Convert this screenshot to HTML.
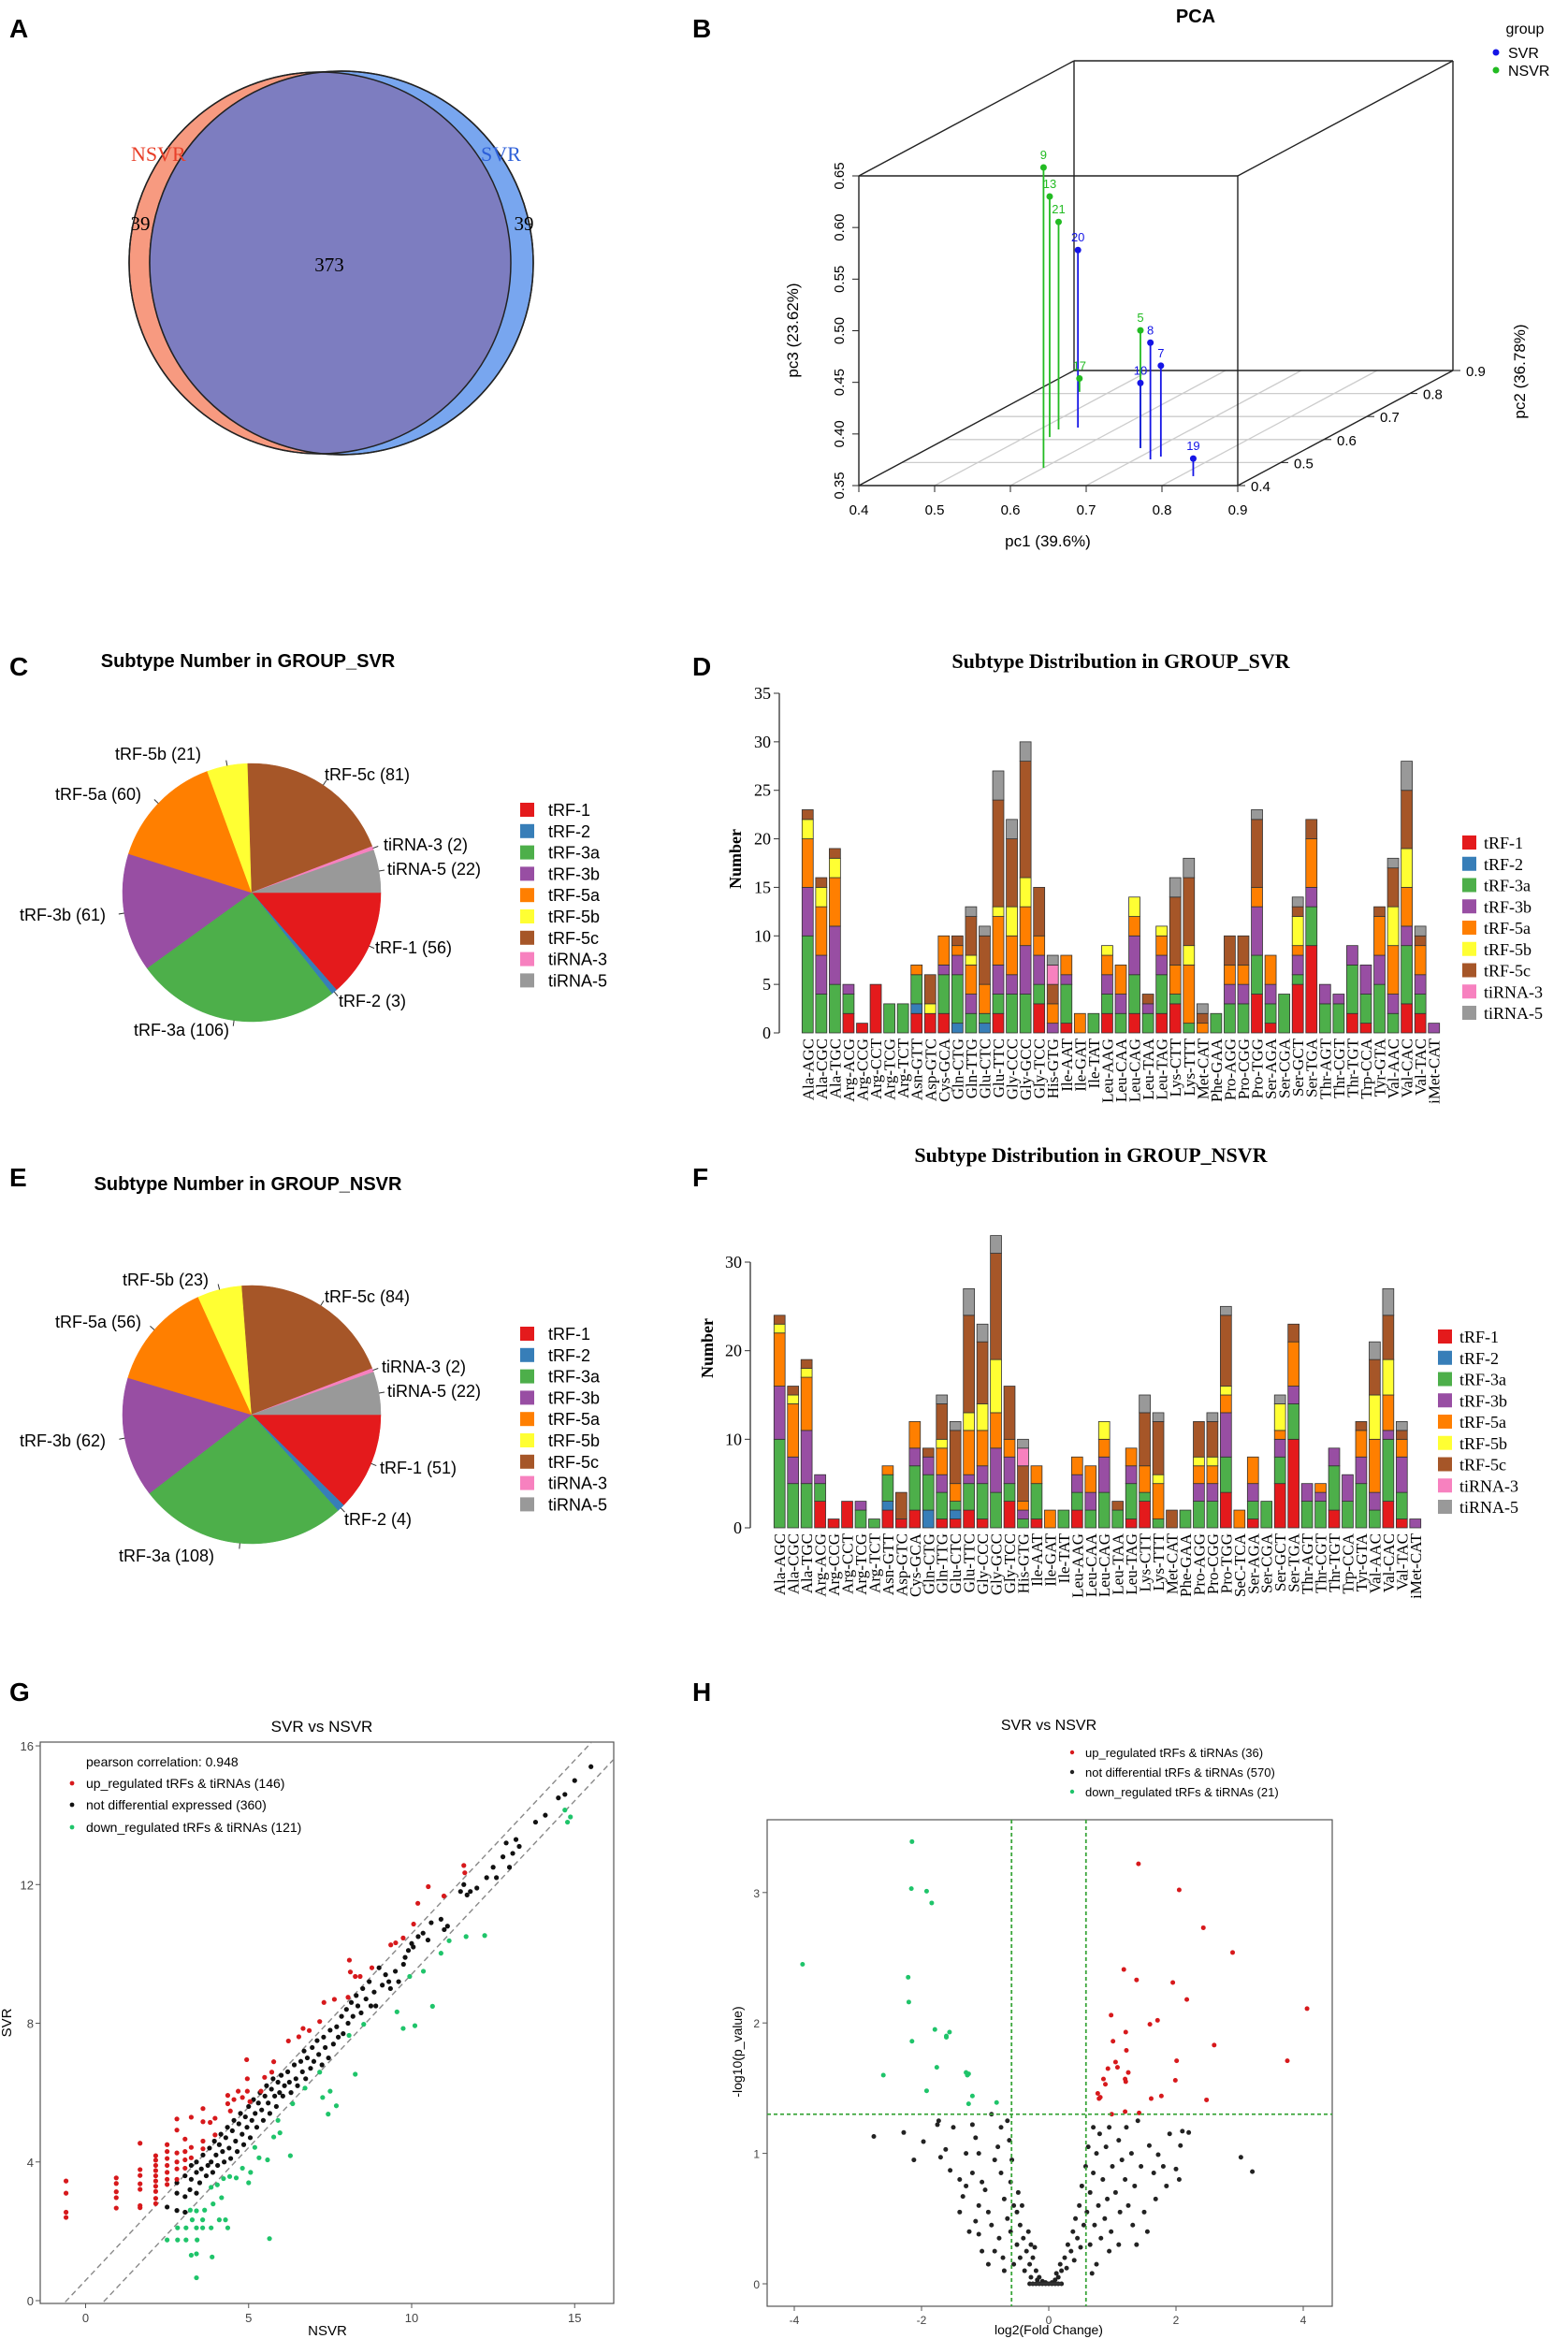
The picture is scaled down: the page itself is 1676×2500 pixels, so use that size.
<!DOCTYPE html>
<html><head><meta charset="utf-8">
<style>
html,body{margin:0;padding:0;background:#fff;}
svg{display:block;}
text{font-family:"Liberation Sans",sans-serif;}
.serif{font-family:"Liberation Serif",serif;}
</style></head>
<body>
<svg id="fig" width="1676" height="2500" viewBox="0 0 1676 2500" xmlns="http://www.w3.org/2000/svg">
  <rect x="0" y="0" width="1676" height="2500" fill="#fff"/>
  <text x="10" y="40" font-size="28" font-weight="bold">A</text>
  <text x="740" y="40" font-size="28" font-weight="bold">B</text>
  <text x="10" y="722" font-size="28" font-weight="bold">C</text>
  <text x="740" y="722" font-size="28" font-weight="bold">D</text>
  <text x="10" y="1268" font-size="28" font-weight="bold">E</text>
  <text x="740" y="1268" font-size="28" font-weight="bold">F</text>
  <text x="10" y="1818" font-size="28" font-weight="bold">G</text>
  <text x="740" y="1818" font-size="28" font-weight="bold">H</text>

  <!-- Venn -->
  <g>
    <defs><clipPath id="clipN"><circle cx="342" cy="281" r="204"/></clipPath></defs>
    <circle cx="342" cy="281" r="204" fill="#f79a80" stroke="#222" stroke-width="1.5"/>
    <circle cx="365" cy="281" r="205" fill="#78a6ef" stroke="#222" stroke-width="1.5"/>
    <circle cx="365" cy="281" r="205" fill="#7d7dc0" clip-path="url(#clipN)"/>
    <circle cx="342" cy="281" r="204" fill="none" stroke="#222" stroke-width="1.5"/>
    <circle cx="365" cy="281" r="205" fill="none" stroke="#222" stroke-width="1.5"/>
    <text x="140" y="172" font-size="22" fill="#e8402a" class="serif">NSVR</text>
    <text x="514" y="172" font-size="22" fill="#2c5fd8" class="serif">SVR</text>
    <text x="150" y="246" font-size="21" class="serif" text-anchor="middle">39</text>
    <text x="352" y="290" font-size="21" class="serif" text-anchor="middle">373</text>
    <text x="560" y="246" font-size="21" class="serif" text-anchor="middle">39</text>
  </g>

  <g id="pca"></g>
  <g id="pieC"></g>
  <g id="pieE"></g>
  <g id="barD"></g>
  <g id="barF"></g>
  <g id="scatG"></g>
  <g id="volH"></g>
</svg>
<script>
var NS = "http://www.w3.org/2000/svg";
function mk(tag, attrs, parent, txt){
  var e = document.createElementNS(NS, tag);
  for (var k in attrs) e.setAttribute(k, attrs[k]);
  if (txt !== undefined) e.textContent = txt;
  parent.appendChild(e);
  return e;
}
var subtypes = ["tRF-1","tRF-2","tRF-3a","tRF-3b","tRF-5a","tRF-5b","tRF-5c","tiRNA-3","tiRNA-5"];
var subColors = ["#e41a1c","#377eb8","#4daf4a","#984ea3","#ff7f00","#ffff33","#a65628","#f781bf","#999999"];

/* ---------- PCA data ---------- */
var pcaIds = ["9","13","21","20","17","5","8","7","10","19"];
var pcaGroup = ["NSVR","NSVR","NSVR","SVR","NSVR","NSVR","SVR","SVR","SVR","SVR"];
var pcaPc1 = [0.600,0.532,0.525,0.546,0.460,0.679,0.720,0.727,0.679,0.818];
var pcaPc2 = [0.477,0.611,0.644,0.652,0.807,0.563,0.514,0.526,0.563,0.441];
var pcaPc3 = [0.641,0.583,0.551,0.522,0.363,0.464,0.463,0.438,0.413,0.367];
var pcaTicks1 = [0.4,0.5,0.6,0.7,0.8,0.9];
var pcaTicks2 = [0.4,0.5,0.6,0.7,0.8,0.9];
var pcaTicks3 = [0.35,0.40,0.45,0.50,0.55,0.60,0.65];

/* ---------- Pie data ---------- */
var pieSvrValues = [56,3,106,61,60,21,81,2,22];
var pieNsvrValues = [51,4,108,62,56,23,84,2,22];

/* ---------- Bar data ---------- */
var barSvrCats = ["Ala-AGC","Ala-CGC","Ala-TGC","Arg-ACG","Arg-CCG","Arg-CCT","Arg-TCG","Arg-TCT","Asn-GTT","Asp-GTC","Cys-GCA","Gln-CTG","Gln-TTG","Glu-CTC","Glu-TTC","Gly-CCC","Gly-GCC","Gly-TCC","His-GTG","Ile-AAT","Ile-GAT","Ile-TAT","Leu-AAG","Leu-CAA","Leu-CAG","Leu-TAA","Leu-TAG","Lys-CTT","Lys-TTT","Met-CAT","Phe-GAA","Pro-AGG","Pro-CGG","Pro-TGG","Ser-AGA","Ser-CGA","Ser-GCT","Ser-TGA","Thr-AGT","Thr-CGT","Thr-TGT","Trp-CCA","Tyr-GTA","Val-AAC","Val-CAC","Val-TAC","iMet-CAT"];
var svrTRF1  = [0,0,0,2,1,5,0,0,2,2,2,0,0,0,2,0,0,3,0,1,0,0,2,0,2,0,2,3,0,0,0,0,0,4,1,0,5,9,0,0,2,1,0,0,3,2,0];
var svrTRF2  = [0,0,0,0,0,0,0,0,1,0,0,1,0,1,0,0,0,0,0,0,0,0,0,0,0,0,0,0,0,0,0,0,0,0,0,0,0,0,0,0,0,0,0,0,0,0,0];
var svrTRF3a = [10,4,5,2,0,0,3,3,3,0,4,5,2,1,2,4,4,2,0,4,0,2,2,2,4,2,4,1,1,0,2,3,3,4,2,4,1,4,3,3,5,3,5,2,6,2,0];
var svrTRF3b = [5,4,6,1,0,0,0,0,0,0,1,2,2,0,3,2,5,3,1,1,0,0,2,2,4,1,2,0,0,0,0,2,2,5,2,0,2,2,2,1,2,3,3,2,2,2,1];
var svrTRF5a = [5,5,5,0,0,0,0,0,1,0,3,1,3,3,5,4,4,2,2,2,2,0,2,3,2,0,2,3,6,1,0,2,2,2,3,0,1,5,0,0,0,0,4,5,4,3,0];
var svrTRF5b = [2,2,2,0,0,0,0,0,0,1,0,0,1,0,1,3,3,0,0,0,0,0,1,0,2,0,1,0,2,0,0,0,0,0,0,0,3,0,0,0,0,0,0,4,4,0,0];
var svrTRF5c = [1,1,1,0,0,0,0,0,0,3,0,1,4,5,11,7,12,5,2,0,0,0,0,0,0,1,0,7,7,1,0,3,3,7,0,0,1,2,0,0,0,0,1,4,6,1,0];
var svrTi3   = [0,0,0,0,0,0,0,0,0,0,0,0,0,0,0,0,0,0,2,0,0,0,0,0,0,0,0,0,0,0,0,0,0,0,0,0,0,0,0,0,0,0,0,0,0,0,0];
var svrTi5   = [0,0,0,0,0,0,0,0,0,0,0,0,1,1,3,2,2,0,1,0,0,0,0,0,0,0,0,2,2,1,0,0,0,1,0,0,1,0,0,0,0,0,0,1,3,1,0];

var barNsvrCats = ["Ala-AGC","Ala-CGC","Ala-TGC","Arg-ACG","Arg-CCG","Arg-CCT","Arg-TCG","Arg-TCT","Asn-GTT","Asp-GTC","Cys-GCA","Gln-CTG","Gln-TTG","Glu-CTC","Glu-TTC","Gly-CCC","Gly-GCC","Gly-TCC","His-GTG","Ile-AAT","Ile-GAT","Ile-TAT","Leu-AAG","Leu-CAA","Leu-CAG","Leu-TAA","Leu-TAG","Lys-CTT","Lys-TTT","Met-CAT","Phe-GAA","Pro-AGG","Pro-CGG","Pro-TGG","SeC-TCA","Ser-AGA","Ser-CGA","Ser-GCT","Ser-TGA","Thr-AGT","Thr-CGT","Thr-TGT","Trp-CCA","Tyr-GTA","Val-AAC","Val-CAC","Val-TAC","iMet-CAT"];
var nsvrTRF1  = [0,0,0,3,1,3,0,0,2,1,2,0,1,1,2,1,0,3,0,1,0,0,2,0,0,0,1,3,0,0,0,0,0,4,0,1,0,5,10,0,0,2,0,0,0,3,1,0];
var nsvrTRF2  = [0,0,0,0,0,0,0,0,1,0,0,2,0,1,0,0,0,0,0,0,0,0,0,0,0,0,0,0,0,0,0,0,0,0,0,0,0,0,0,0,0,0,0,0,0,0,0,0];
var nsvrTRF3a = [10,5,5,2,0,0,2,1,3,0,5,4,3,1,3,4,4,2,1,4,0,2,2,2,4,2,4,1,1,0,2,3,3,4,0,2,3,3,4,3,3,5,3,5,2,7,3,0];
var nsvrTRF3b = [6,3,6,1,0,0,1,0,0,0,2,2,2,0,1,2,5,3,1,0,0,0,2,2,4,0,2,0,0,0,0,2,2,5,0,2,0,2,2,2,1,2,3,3,2,1,4,1];
var nsvrTRF5a = [6,6,6,0,0,0,0,0,1,0,3,0,3,2,5,4,4,2,1,2,2,0,2,3,2,0,2,3,4,0,0,2,2,2,2,3,0,1,5,0,1,0,0,3,6,4,2,0];
var nsvrTRF5b = [1,1,1,0,0,0,0,0,0,0,0,0,1,0,2,3,6,0,0,0,0,0,0,0,2,0,0,0,1,0,0,1,1,1,0,0,0,3,0,0,0,0,0,0,5,4,0,0];
var nsvrTRF5c = [1,1,1,0,0,0,0,0,0,3,0,1,4,6,11,7,12,6,4,0,0,0,0,0,0,1,0,6,6,2,0,4,4,8,0,0,0,0,2,0,0,0,0,1,4,5,1,0];
var nsvrTi3   = [0,0,0,0,0,0,0,0,0,0,0,0,0,0,0,0,0,0,2,0,0,0,0,0,0,0,0,0,0,0,0,0,0,0,0,0,0,0,0,0,0,0,0,0,0,0,0,0];
var nsvrTi5   = [0,0,0,0,0,0,0,0,0,0,0,0,1,1,3,2,2,0,1,0,0,0,0,0,0,0,0,2,1,0,0,0,1,1,0,0,0,1,0,0,0,0,0,0,2,3,1,0];
var barSvrTicks = [0,5,10,15,20,25,30,35];
var barNsvrTicks = [0,10,20,30];

/* ---------- Scatter G data ---------- */
var gUpX = [-0.6,-0.6,-0.6,-0.6,0.94,0.94,0.94,0.94,0.94,1.67,1.67,1.67,1.67,1.67,1.67,1.67,2.15,2.15,2.15,2.15,2.15,2.15,2.15,2.15,2.15,2.15,2.5,2.5,2.5,2.5,2.5,2.5,2.5,2.8,2.8,2.8,2.8,2.8,2.8,3.05,3.05,3.05,3.05,3.24,3.24,3.24,3.6,3.6,3.6,3.6,3.82,3.97,3.97,4.36,4.36,4.44,4.55,4.68,4.81,4.94,4.96,4.96,5.04,5.38,5.49,5.71,5.77,6.22,6.54,6.67,6.86,7.18,7.31,7.63,8.05,8.12,8.27,8.42,8.78,9.36,9.51,9.74,10.06,10.19,10.99,11.6,11.63,10.51,8.09];
var gUpY = [3.45,3.1,2.55,2.4,3.54,3.38,3.14,2.97,2.67,3.78,3.61,3.37,3.21,2.74,2.68,4.54,4.18,4.05,3.9,3.75,3.6,3.45,3.3,3.15,2.95,2.8,4.5,4.3,4.1,3.9,3.7,3.5,3.35,5.24,4.92,4.26,4.0,3.8,3.5,4.66,4.3,4.06,3.82,5.29,4.42,4.12,5.54,5.16,4.6,4.38,5.14,5.26,4.78,5.92,5.68,5.47,5.8,6.04,5.86,6.95,6.4,6.04,5.74,6.04,6.44,6.59,6.89,7.49,7.61,7.85,7.79,8.05,8.6,8.69,8.75,9.48,9.35,9.35,9.6,10.26,10.32,10.46,10.86,11.46,11.67,12.55,12.34,11.94,9.82];
var gNoX = [2.5,2.8,2.8,2.8,3.05,3.05,3.05,3.2,3.24,3.24,3.4,3.4,3.4,3.5,3.55,3.6,3.7,3.75,3.8,3.85,3.9,3.95,4.0,4.05,4.1,4.15,4.2,4.25,4.3,4.35,4.4,4.45,4.5,4.55,4.6,4.65,4.7,4.75,4.8,4.85,4.9,4.95,5.0,5.05,5.1,5.15,5.2,5.25,5.3,5.35,5.4,5.45,5.5,5.55,5.6,5.65,5.7,5.75,5.8,5.85,5.9,5.95,6.0,6.05,6.1,6.2,6.25,6.3,6.4,6.45,6.5,6.6,6.65,6.7,6.75,6.8,6.9,6.95,7.0,7.1,7.15,7.25,7.3,7.35,7.45,7.5,7.6,7.7,7.75,7.85,7.9,8.0,8.05,8.15,8.2,8.3,8.35,8.45,8.5,8.6,8.7,8.75,8.85,9.0,9.1,9.2,9.35,9.5,9.6,9.75,9.8,9.9,10.05,10.2,10.35,10.5,10.6,10.9,11.0,11.1,11.5,11.6,11.7,11.8,12.0,12.3,12.5,12.6,12.8,12.9,13.0,13.1,13.2,13.3,13.8,14.1,14.5,14.7,15.0,15.5,10.0,9.3,8.9];
var gNoY = [2.7,2.6,3.1,3.4,2.55,3.0,3.6,3.2,3.5,3.9,3.1,3.7,4.0,3.4,3.8,4.2,3.6,3.9,4.4,4.0,3.7,4.6,4.2,3.9,4.5,4.8,4.3,4.0,4.7,5.0,4.4,4.1,4.9,5.2,4.6,4.3,5.1,5.4,4.8,4.5,5.3,5.0,5.6,4.7,5.2,5.8,5.4,5.0,5.7,6.0,5.5,5.2,5.9,6.2,5.7,5.4,6.1,6.4,5.9,5.6,6.3,6.0,6.5,5.9,6.2,6.6,6.3,6.0,6.8,6.4,6.2,6.9,6.6,7.2,6.4,7.0,6.7,7.3,6.9,7.5,7.1,6.8,7.6,7.3,7.0,7.8,7.4,7.9,7.6,8.2,7.7,8.4,8.0,8.6,8.2,8.8,8.5,8.3,9.0,8.7,9.2,8.5,8.9,9.6,9.1,9.4,9.0,9.5,9.2,9.7,9.9,10.1,10.2,10.5,10.6,10.4,10.9,11.0,10.7,10.8,11.8,12.0,11.7,11.8,11.9,12.2,12.5,12.2,12.8,13.2,12.5,12.9,13.3,13.1,13.8,14.0,14.5,14.6,15.0,15.4,10.3,9.2,8.5];
var gDownX = [3.4,3.24,3.4,3.88,2.5,2.82,3.08,3.42,5.64,2.82,3.08,3.4,3.59,3.85,4.36,3.27,3.59,4.1,4.29,3.21,3.4,3.65,3.91,4.17,3.85,4.04,4.23,4.42,4.62,4.81,5.0,5.06,5.32,5.19,5.58,5.77,5.96,5.9,6.28,6.35,6.73,7.18,7.44,7.27,7.69,7.5,8.27,8.08,8.53,9.55,9.74,10.1,9.94,10.36,10.64,10.9,11.15,11.67,12.24,14.7,14.78,14.87];
var gDownY = [0.66,1.31,1.35,1.26,1.75,1.75,1.75,1.75,1.79,2.1,2.1,2.1,2.1,2.1,2.1,2.33,2.33,2.33,2.33,2.61,2.59,2.61,2.79,2.97,3.27,3.34,3.52,3.58,3.54,3.82,3.4,3.7,4.12,4.42,4.06,4.72,4.84,5.2,4.18,5.68,6.13,6.59,5.38,5.86,5.62,6.04,6.53,7.65,7.97,8.33,7.85,7.93,9.35,9.5,8.49,10.02,10.38,10.5,10.53,14.15,13.8,13.95];
var gTicksX = [0,5,10,15];
var gTicksY = [0,4,8,12,16];

/* ---------- Volcano H data ---------- */
var hUpX = [1.41,2.05,2.43,2.89,1.18,1.38,1.95,2.17,4.06,0.98,1.71,1.59,1.21,1.01,2.6,1.22,1.05,2.01,3.75,1.08,0.93,1.25,0.86,1.2,1.99,0.89,1.21,0.77,0.81,0.79,1.77,1.61,2.48,0.99,1.2,1.42];
var hUpY = [3.22,3.02,2.73,2.54,2.41,2.33,2.31,2.18,2.11,2.06,2.02,1.99,1.93,1.86,1.83,1.79,1.7,1.71,1.71,1.66,1.65,1.62,1.57,1.57,1.56,1.53,1.55,1.46,1.43,1.42,1.44,1.42,1.41,1.3,1.32,1.31];
var hDownX = [-2.15,-2.16,-1.92,-1.84,-3.87,-2.21,-2.2,-1.79,-1.56,-1.61,-2.15,-2.6,-1.76,-1.28,-1.26,-1.92,-1.2,-1.26,-0.82,-1.61,-1.3];
var hDownY = [3.39,3.03,3.01,2.92,2.45,2.35,2.16,1.95,1.93,1.89,1.86,1.6,1.66,1.6,1.61,1.48,1.44,1.38,1.39,1.9,1.62];
var hNoX = [-2.75,-2.28,-2.12,-1.97,-1.73,-1.75,-1.7,-1.62,-1.5,-1.55,-1.4,-1.3,-1.35,-1.4,-1.2,-1.15,-1.1,-1.2,-1.05,-1.1,-1.15,-1.1,-1.0,-0.95,-0.9,-0.85,-0.8,-0.9,-0.75,-0.7,-0.78,-0.85,-0.72,-0.65,-0.6,-0.6,-0.55,-0.5,-0.55,-0.45,-0.45,-0.4,-0.38,-0.35,-0.3,-0.28,-0.25,-0.2,-0.18,-0.15,-0.1,-0.05,-0.65,-0.62,-0.75,-1.25,-1.3,-0.95,-1.05,-0.7,-0.58,-0.5,-0.48,-0.42,-0.32,-0.28,-0.22,0.05,0.1,0.12,0.15,0.18,0.2,0.25,0.28,0.3,0.35,0.38,0.4,0.42,0.45,0.48,0.5,0.52,0.55,0.58,0.6,0.62,0.65,0.65,0.7,0.7,0.72,0.75,0.78,0.8,0.82,0.85,0.88,0.9,0.92,0.95,0.98,1.0,1.05,1.1,1.12,1.15,1.2,1.22,1.25,1.3,1.32,1.35,1.4,1.45,1.5,1.58,1.65,1.72,1.68,1.8,1.85,1.9,2.0,2.05,2.1,2.07,2.2,3.02,3.2,1.55,1.38,0.68,0.75,0.95,1.1,-0.3,-0.25,-0.2,-0.15,-0.1,-0.05,0,0.05,0.1,0.15,0.2];
var hNoY = [1.13,1.16,0.95,1.09,1.25,1.22,0.97,1.03,1.2,0.87,0.8,1.0,0.67,0.55,1.22,1.12,1.0,0.85,0.78,0.6,0.48,0.38,0.72,0.55,0.45,0.95,1.05,1.3,0.85,0.65,0.35,0.25,0.2,0.5,0.78,0.4,0.6,0.3,0.15,0.45,0.2,0.35,0.1,0.25,0.15,0.05,0.2,0.1,0.03,0.05,0.02,0.01,1.25,1.1,1.2,0.4,0.75,0.15,0.25,0.1,0.95,0.55,0.7,0.6,0.4,0.3,0.28,0.01,0.03,0.08,0.05,0.15,0.1,0.2,0.12,0.3,0.25,0.4,0.18,0.5,0.35,0.6,0.28,0.75,0.45,0.9,0.55,1.05,0.7,0.3,1.2,0.85,0.45,1.0,0.6,1.15,0.35,0.8,0.5,1.05,0.65,1.2,0.4,0.9,0.7,1.1,0.55,0.95,0.8,1.2,0.6,1.0,0.45,0.75,1.25,0.9,0.55,1.06,0.85,0.99,0.65,0.9,0.75,1.15,0.88,0.8,1.17,1.06,1.16,0.97,0.86,0.4,0.3,0.08,0.15,0.25,0.3,0,0,0,0,0,0,0,0,0,0,0];
var hTicksX = [-4,-2,0,2,4];
var hTicksY = [0,1,2,3];

var fig = document.getElementById('fig');

/* ================= PCA ================= */
(function(){
  var g = document.getElementById('pca');
  function P(a,b,c){ return [918 + (a-0.4)/0.5*405 + (b-0.4)/0.5*230, 519 - (b-0.4)/0.5*123 - (c-0.35)/0.3*331]; }
  var t = mk('text',{x:1278,y:24,'font-size':20,'font-weight':'bold','text-anchor':'middle'},g,'PCA');
  
  
  // floor grid
  pcaTicks2.slice(1,5).forEach(function(v){
    var p1=P(0.4,v,0.35), p2=P(0.9,v,0.35);
    var l=mk('line',{x1:p1[0],y1:p1[1],x2:p2[0],y2:p2[1],stroke:'#ccc','stroke-width':1.3},g);
    
    
  });
  pcaTicks1.slice(1,5).forEach(function(v){
    var p1=P(v,0.4,0.35), p2=P(v,0.9,0.35);
    var l=mk('line',{x1:p1[0],y1:p1[1],x2:p2[0],y2:p2[1],stroke:'#ccc','stroke-width':1.3},g);
    
    
  });
  // cube edges
  var C=[[0.4,0.4,0.35],[0.9,0.4,0.35],[0.9,0.4,0.65],[0.4,0.4,0.65],[0.4,0.9,0.35],[0.9,0.9,0.35],[0.9,0.9,0.65],[0.4,0.9,0.65]];
  var E=[[0,1],[1,2],[2,3],[3,0],[4,5],[5,6],[6,7],[7,4],[0,4],[1,5],[2,6],[3,7]];
  E.forEach(function(e){
    var a=P.apply(null,C[e[0]]), b=P.apply(null,C[e[1]]);
    var l=mk('line',{x1:a[0],y1:a[1],x2:b[0],y2:b[1],stroke:'#222','stroke-width':1.4},g);
    
    
  });
  // ticks
  pcaTicks1.forEach(function(v){
    var p=P(v,0.4,0.35);
    var l=mk('line',{x1:p[0],y1:p[1],x2:p[0],y2:p[1]+7,stroke:'#222'},g);
    
    
    var tx=mk('text',{x:p[0],y:p[1]+31,'font-size':15,'text-anchor':'middle'},g,v.toFixed(1));
    
    
  });
  pcaTicks2.forEach(function(v){
    var p=P(0.9,v,0.35);
    var l=mk('line',{x1:p[0],y1:p[1],x2:p[0]+8,y2:p[1],stroke:'#222'},g);
    
    
    var tx=mk('text',{x:p[0]+14,y:p[1]+6,'font-size':15},g,v.toFixed(1));
    
    
  });
  pcaTicks3.forEach(function(v){
    var p=P(0.4,0.4,v);
    var l=mk('line',{x1:p[0]-7,y1:p[1],x2:p[0],y2:p[1],stroke:'#222'},g);
    
    
    var tx=mk('text',{x:p[0]-16,y:p[1],'font-size':15,'text-anchor':'middle',transform:'rotate(-90 '+(p[0]-16)+' '+p[1]+')'},g,v.toFixed(2));
    
    
  });
  var a1=mk('text',{x:1120,y:584,'font-size':17,'text-anchor':'middle'},g,'pc1 (39.6%)');
  
  
  var a3=mk('text',{x:853,y:353,'font-size':17,'text-anchor':'middle',transform:'rotate(-90 853 353)'},g,'pc3 (23.62%)');
  
  
  var a2=mk('text',{x:1630,y:397,'font-size':17,'text-anchor':'middle',transform:'rotate(-90 1630 397)'},g,'pc2 (36.78%)');
  
  
  // points
  for (var i=0;i<pcaIds.length;i++){
    var col = pcaGroup[i]==='SVR' ? '#1515e6' : '#22bb22';
    var top=P(pcaPc1[i],pcaPc2[i],pcaPc3[i]), bot=P(pcaPc1[i],pcaPc2[i],0.35);
    var st=mk('line',{x1:top[0],y1:top[1],x2:bot[0],y2:bot[1],stroke:col,'stroke-width':1.8},g);
    
    
    var c=mk('circle',{cx:top[0],cy:top[1],r:3.5,fill:col},g);
    
    
    var lb=mk('text',{x:top[0],y:top[1]-9,'font-size':13,'text-anchor':'middle',fill:col},g,pcaIds[i]);
    
    
  }
  var lg=mk('text',{x:1630,y:36,'font-size':16,'text-anchor':'middle'},g,'group');
  
  
  [['SVR','#1515e6',56],['NSVR','#22bb22',75]].forEach(function(r){
    var d=mk('circle',{cx:1599,cy:r[2],r:3.5,fill:r[1]},g);
    
    
    var tx=mk('text',{x:1612,y:r[2]+6,'font-size':16},g,r[0]);
    
    
  });
})();

/* ================= Pies ================= */
function drawPie(gid, vals, cx, cy, r, title, titleY, labelPos, legendY){
  var g=document.getElementById(gid);
  var t=mk('text',{x:265,y:titleY,'font-size':20,'font-weight':'bold','text-anchor':'middle'},g,title);
  
  
  var tot=vals.reduce(function(a,b){return a+b;},0);
  var a0=0;
  for (var i=0;i<vals.length;i++){
    var a1=a0+vals[i]/tot*2*Math.PI;
    var x0=cx+r*Math.cos(a0), y0=cy+r*Math.sin(a0), x1=cx+r*Math.cos(a1), y1=cy+r*Math.sin(a1);
    var large=(a1-a0)>Math.PI?1:0;
    var p=mk('path',{d:'M'+cx+','+cy+' L'+x0+','+y0+' A'+r+','+r+' 0 '+large+' 1 '+x1+','+y1+' Z',fill:subColors[i],stroke:subColors[i],'stroke-width':0.5},g);
    
    
    var am=(a0+a1)/2;
    var tk=mk('line',{x1:cx+r*Math.cos(am),y1:cy+r*Math.sin(am),x2:cx+(r+6)*Math.cos(am),y2:cy+(r+6)*Math.sin(am),stroke:'#333'},g);
    
    
    var lp=labelPos[i];
    var lt=mk('text',{x:lp[0],y:lp[1]+6,'font-size':18},g,subtypes[i]+' ('+vals[i]+')');
    
    
    a0=a1;
  }
  for (var j=0;j<subtypes.length;j++){
    var yy=legendY+j*22.8;
    var s=mk('rect',{x:556,y:yy-8,width:15,height:15,fill:subColors[j]},g);
    
    
    var tx=mk('text',{x:586,y:yy+6,'font-size':18},g,subtypes[j]);
    
    
  }
}
drawPie('pieC', pieSvrValues, 269, 954, 138, 'Subtype Number in GROUP_SVR', 713,
  [[401,1013],[362,1070],[143,1101],[21,978],[59,849],[123,806],[347,828],[410,903],[414,929]], 866);
drawPie('pieE', pieNsvrValues, 269, 1512, 138, 'Subtype Number in GROUP_NSVR', 1272,
  [[406,1569],[368,1624],[127,1663],[21,1540],[59,1413],[131,1368],[347,1386],[408,1461],[414,1487]], 1426);

/* ================= Bars ================= */
function drawBars(gid, cats, series, yMax, ticks, ax){
  var g=document.getElementById(gid);
  function Y(v){ return ax.y0 - v/ax.unitV*ax.unitPx; }
  var t=mk('text',{x:ax.titleX,y:ax.titleY,'font-size':22,'font-weight':'bold','text-anchor':'middle',class:'serif'},g,ax.title);
  
  
  var al=mk('line',{x1:ax.axisX,y1:Y(0),x2:ax.axisX,y2:Y(ticks[ticks.length-1]),stroke:'#333','stroke-width':1.3},g);
  
  
  ticks.forEach(function(v){
    var l=mk('line',{x1:ax.axisX-6,y1:Y(v),x2:ax.axisX,y2:Y(v),stroke:'#333'},g);
    
    
    var tx=mk('text',{x:ax.axisX-9,y:Y(v)+6,'font-size':18,'text-anchor':'end',class:'serif'},g,String(v));
    
    
  });
  var yt=mk('text',{x:ax.ytX,y:ax.ytY,'font-size':18,'font-weight':'bold','text-anchor':'middle',class:'serif',transform:'rotate(-90 '+ax.ytX+' '+ax.ytY+')'},g,'Number');
  
  
  var step=(ax.x1-ax.x0)/cats.length, bw=step*0.82;
  for (var i=0;i<cats.length;i++){
    var bx=ax.x0+i*step+(step-bw)/2, cum=0;
    for (var s=0;s<series.length;s++){
      var v=series[s][i];
      if (v<=0) continue;
      var r=mk('rect',{x:bx,y:Y(cum+v),width:bw,height:Y(cum)-Y(cum+v),fill:subColors[s],stroke:'#333','stroke-width':0.8},g);
      
      
      cum+=v;
    }
    var cx=bx+bw/2+6, cy=Y(0)+6;
    var lt=mk('text',{x:cx,y:cy,'font-size':17,'text-anchor':'end',class:'serif',transform:'rotate(-90 '+cx+' '+cy+')'},g,cats[i]);
    
    
  }
  for (var j=0;j<subtypes.length;j++){
    var yy=ax.legY+j*ax.legStep;
    var sq=mk('rect',{x:ax.legX,y:yy-8,width:15,height:15,fill:subColors[j]},g);
    
    
    var tx=mk('text',{x:ax.legX+23,y:yy+6,'font-size':18,class:'serif'},g,subtypes[j]);
    
    
  }
}
drawBars('barD', barSvrCats, [svrTRF1,svrTRF2,svrTRF3a,svrTRF3b,svrTRF5a,svrTRF5b,svrTRF5c,svrTi3,svrTi5], 35, barSvrTicks,
  {y0:1104,unitV:35,unitPx:363,axisX:833,x0:856,x1:1540,title:'Subtype Distribution in GROUP_SVR',titleX:1198,titleY:714,ytX:792,ytY:918,legX:1563,legY:901,legStep:22.75});
drawBars('barF', barNsvrCats, [nsvrTRF1,nsvrTRF2,nsvrTRF3a,nsvrTRF3b,nsvrTRF5a,nsvrTRF5b,nsvrTRF5c,nsvrTi3,nsvrTi5], 30, barNsvrTicks,
  {y0:1633,unitV:30,unitPx:284,axisX:802,x0:826,x1:1520,title:'Subtype Distribution in GROUP_NSVR',titleX:1166,titleY:1242,ytX:762,ytY:1441,legX:1537,legY:1429,legStep:22.75});

/* ================= Scatter G ================= */
(function(){
  var g=document.getElementById('scatG');
  var L=43,R=656,T=1862,B=2462;
  function X(v){ return 91.5 + v*34.85; }
  function Y(v){ return 2459 - v*37.06; }
  var box=mk('rect',{x:L,y:T,width:R-L,height:B-T,fill:'none',stroke:'#555','stroke-width':1.2},g);
  
  
  var cp=mk('clipPath',{id:'clipG'},g); mk('rect',{x:L,y:T,width:R-L,height:B-T},cp);
  [0.585,-0.585].forEach(function(o){
    var l=mk('line',{x1:X(-2),y1:Y(-2+o),x2:X(17),y2:Y(17+o),stroke:'#888','stroke-width':1.4,'stroke-dasharray':'6,4','clip-path':'url(#clipG)'},g);
    
    
  });
  function pts(xs,ys,col,name){
    for (var i=0;i<xs.length;i++){
      var c=mk('circle',{cx:X(xs[i]),cy:Y(ys[i]),r:2.6,fill:col},g);
      
      
    }
  }
  pts(gNoX,gNoY,'#111','point-not-differential');
  pts(gUpX,gUpY,'#d7191c','point-up-regulated');
  pts(gDownX,gDownY,'#1fc46a','point-down-regulated');
  gTicksX.forEach(function(v){
    var l=mk('line',{x1:X(v),y1:B,x2:X(v),y2:B+5,stroke:'#555'},g);
    
    
    var tx=mk('text',{x:X(v),y:B+20,'font-size':13,fill:'#444','text-anchor':'middle'},g,String(v));
    
    
  });
  gTicksY.forEach(function(v){
    var l=mk('line',{x1:L-5,y1:Y(v),x2:L,y2:Y(v),stroke:'#555'},g);
    
    
    var tx=mk('text',{x:L-7,y:Y(v)+5,'font-size':13,fill:'#444','text-anchor':'end'},g,String(v));
    
    
  });
  var t=mk('text',{x:344,y:1851,'font-size':17,'text-anchor':'middle'},g,'SVR vs NSVR');
  
  
  var xt=mk('text',{x:350,y:2496,'font-size':15,'text-anchor':'middle'},g,'NSVR');
  
  
  var yt=mk('text',{x:12,y:2162,'font-size':15,'text-anchor':'middle',transform:'rotate(-90 12 2162)'},g,'SVR');
  
  
  var pc=mk('text',{x:92,y:1888,'font-size':14},g,'pearson correlation: 0.948');
  
  
  [['up_regulated tRFs & tiRNAs (146)','#d7191c',1906],['not differential expressed (360)','#111',1929],['down_regulated tRFs & tiRNAs (121)','#1fc46a',1953]].forEach(function(r){
    var d=mk('circle',{cx:77,cy:r[2],r:2.4,fill:r[1]},g);
    
    
    var tx=mk('text',{x:92,y:r[2]+5,'font-size':14},g,r[0]);
    
    
  });
})();

/* ================= Volcano H ================= */
(function(){
  var g=document.getElementById('volH');
  var L=820,R=1424,T=1945,B=2465;
  function X(v){ return 1121 + v*68.0; }
  function Y(v){ return 2441 - v*139.4; }
  var box=mk('rect',{x:L,y:T,width:R-L,height:B-T,fill:'none',stroke:'#555','stroke-width':1.2},g);
  
  
  function pts(xs,ys,col,name){
    for (var i=0;i<xs.length;i++){
      var c=mk('circle',{cx:X(xs[i]),cy:Y(ys[i]),r:2.5,fill:col},g);
      
      
    }
  }
  pts(hNoX,hNoY,'#222','point-not-differential');
  var base=mk('line',{x1:X(-0.3),y1:Y(0),x2:X(0.2),y2:Y(0),stroke:'#333','stroke-width':3},g);
  
  
  pts(hUpX,hUpY,'#d7191c','point-up-regulated');
  pts(hDownX,hDownY,'#1fc46a','point-down-regulated');
  [-0.585,0.585].forEach(function(v){
    var l=mk('line',{x1:X(v),y1:T,x2:X(v),y2:B,stroke:'#3aa53a','stroke-width':1.8,'stroke-dasharray':'4,3'},g);
    
    
  });
  var hl=mk('line',{x1:L,y1:Y(1.3),x2:R,y2:Y(1.3),stroke:'#3aa53a','stroke-width':1.8,'stroke-dasharray':'4,3'},g);
  
  
  hTicksX.forEach(function(v){
    var l=mk('line',{x1:X(v),y1:B,x2:X(v),y2:B+5,stroke:'#555'},g);
    
    
    var tx=mk('text',{x:X(v),y:B+19,'font-size':12,fill:'#444','text-anchor':'middle'},g,String(v));
    
    
  });
  hTicksY.forEach(function(v){
    var l=mk('line',{x1:L-5,y1:Y(v),x2:L,y2:Y(v),stroke:'#555'},g);
    
    
    var tx=mk('text',{x:L-8,y:Y(v)+5,'font-size':12,fill:'#444','text-anchor':'end'},g,String(v));
    
    
  });
  var t=mk('text',{x:1121,y:1849,'font-size':16,'text-anchor':'middle'},g,'SVR vs NSVR');
  
  
  var xt=mk('text',{x:1121,y:2495,'font-size':14,'text-anchor':'middle'},g,'log2(Fold Change)');
  
  
  var yt=mk('text',{x:793,y:2193,'font-size':14,'text-anchor':'middle',transform:'rotate(-90 793 2193)'},g,'-log10(p_value)');
  
  
  [['up_regulated tRFs & tiRNAs (36)','#d7191c',1873],['not differential tRFs & tiRNAs (570)','#222',1894],['down_regulated tRFs & tiRNAs (21)','#1fc46a',1915]].forEach(function(r){
    var d=mk('circle',{cx:1146,cy:r[2],r:2.2,fill:r[1]},g);
    
    
    var tx=mk('text',{x:1160,y:r[2]+5,'font-size':13},g,r[0]);
    
    
  });
})();
</script>
</body></html>
